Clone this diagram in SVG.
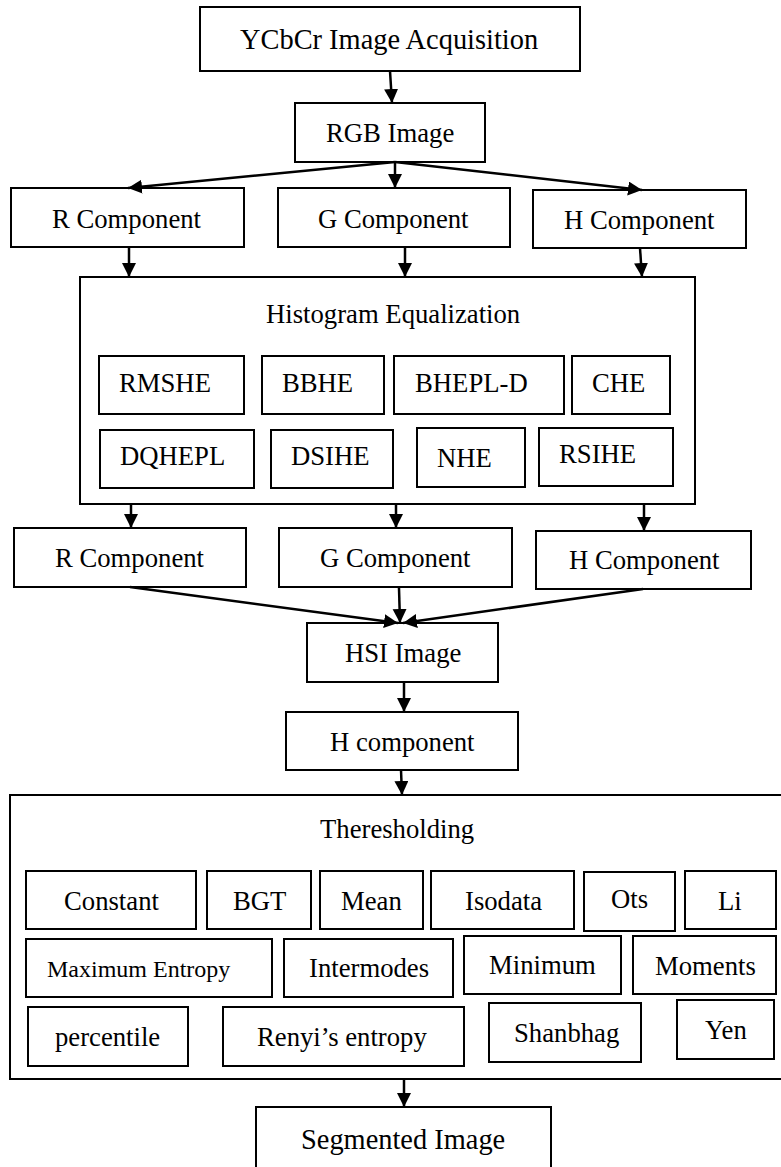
<svg xmlns="http://www.w3.org/2000/svg" width="781" height="1167" viewBox="0 0 781 1167">
<style>
rect{fill:#fff;stroke:#000;stroke-width:2}
text{font-family:"Liberation Serif","Times New Roman",serif;font-size:26.7px;fill:#000}
.sm{font-size:24px}
.lg{font-size:28.4px}
.c line{stroke:#000;stroke-width:2.5;marker-end:url(#ah)}
</style>
<defs>
<marker id="ah" markerUnits="userSpaceOnUse" markerWidth="16" markerHeight="16" refX="14" refY="7" orient="auto">
<path d="M0,0 L14,7 L0,14 Z" fill="#000"/>
</marker>
</defs>
<rect x="0" y="0" width="781" height="1167" style="stroke:none"/>
<g id="n-ycbcr"><rect x="200" y="7" width="380" height="64"/><text class="lg" x="240" y="49">YCbCr Image Acquisition</text></g>
<g id="n-rgb"><rect x="295" y="103" width="190" height="59"/><text x="326" y="142">RGB Image</text></g>
<g id="n-r1"><rect x="11" y="188" width="233" height="59"/><text x="52" y="228">R Component</text></g>
<g id="n-g1"><rect x="278" y="188" width="232" height="59"/><text x="318" y="228">G Component</text></g>
<g id="n-h1"><rect x="533" y="190" width="213" height="58"/><text x="564" y="229">H Component</text></g>
<g id="n-he">
<rect x="80" y="277" width="615" height="227"/>
<text x="266" y="323">Histogram Equalization</text>
<g id="n-rmshe"><rect x="99" y="356" width="145" height="58"/><text x="119" y="392">RMSHE</text></g>
<g id="n-bbhe"><rect x="262" y="356" width="122" height="58"/><text x="282" y="392">BBHE</text></g>
<g id="n-bhepld"><rect x="394" y="356" width="170" height="58"/><text x="415" y="392">BHEPL-D</text></g>
<g id="n-che"><rect x="572" y="356" width="98" height="58"/><text x="592" y="392">CHE</text></g>
<g id="n-dqhepl"><rect x="100" y="430" width="154" height="58"/><text x="120" y="465">DQHEPL</text></g>
<g id="n-dsihe"><rect x="271" y="430" width="122" height="58"/><text x="291" y="465">DSIHE</text></g>
<g id="n-nhe"><rect x="417" y="428" width="108" height="59"/><text x="437" y="467">NHE</text></g>
<g id="n-rsihe"><rect x="539" y="428" width="134" height="58"/><text x="559" y="463">RSIHE</text></g>
</g>
<g id="n-r2"><rect x="14" y="528" width="232" height="59"/><text x="55" y="567">R Component</text></g>
<g id="n-g2"><rect x="279" y="528" width="233" height="59"/><text x="320" y="567">G Component</text></g>
<g id="n-h2"><rect x="536" y="531" width="215" height="58"/><text x="569" y="569">H Component</text></g>
<g id="n-hsi"><rect x="307" y="623" width="191" height="59"/><text x="345" y="662">HSI Image</text></g>
<g id="n-hcomp"><rect x="286" y="712" width="232" height="58"/><text x="330" y="751">H component</text></g>
<g id="n-thr">
<rect x="10" y="795" width="790" height="284"/>
<text x="320" y="838">Theresholding</text>
<g id="n-constant"><rect x="26" y="871" width="170" height="58"/><text x="64" y="910">Constant</text></g>
<g id="n-bgt"><rect x="207" y="871" width="104" height="58"/><text x="233" y="910">BGT</text></g>
<g id="n-mean"><rect x="320" y="871" width="103" height="58"/><text x="341" y="910">Mean</text></g>
<g id="n-isodata"><rect x="431" y="871" width="143" height="58"/><text x="465" y="910">Isodata</text></g>
<g id="n-ots"><rect x="584" y="872" width="91" height="59"/><text x="611" y="908">Ots</text></g>
<g id="n-li"><rect x="685" y="871" width="91" height="58"/><text x="718" y="910">Li</text></g>
<g id="n-maxent"><rect x="26" y="939" width="246" height="58"/><text class="sm" x="47" y="977">Maximum Entropy</text></g>
<g id="n-intermodes"><rect x="284" y="939" width="169" height="58"/><text x="309" y="977">Intermodes</text></g>
<g id="n-minimum"><rect x="464" y="936" width="157" height="58"/><text x="489" y="974">Minimum</text></g>
<g id="n-moments"><rect x="633" y="936" width="143" height="58"/><text x="655" y="975">Moments</text></g>
<g id="n-percentile"><rect x="28" y="1007" width="160" height="59"/><text x="55" y="1046">percentile</text></g>
<g id="n-renyi"><rect x="223" y="1007" width="241" height="59"/><text x="257" y="1046">Renyi’s entropy</text></g>
<g id="n-shanbhag"><rect x="489" y="1003" width="152" height="59"/><text x="514" y="1042">Shanbhag</text></g>
<g id="n-yen"><rect x="677" y="1000" width="97" height="59"/><text x="705" y="1039">Yen</text></g>
</g>
<g id="n-seg"><rect x="256" y="1107" width="295" height="90"/><text class="lg" x="301" y="1149">Segmented Image</text></g>
<g id="connectors" class="c">
<line x1="390" y1="71" x2="392" y2="103"/>
<line x1="395" y1="162" x2="128" y2="188"/>
<line x1="395" y1="162" x2="395" y2="188"/>
<line x1="395" y1="162" x2="642" y2="190"/>
<line x1="129" y1="247" x2="129" y2="277"/>
<line x1="405" y1="247" x2="405" y2="277"/>
<line x1="640" y1="248" x2="642" y2="277"/>
<line x1="131" y1="504" x2="131" y2="528"/>
<line x1="396" y1="504" x2="396" y2="528"/>
<line x1="644" y1="504" x2="644" y2="531"/>
<line x1="130" y1="587" x2="398" y2="623"/>
<line x1="399" y1="588" x2="400" y2="623"/>
<line x1="643" y1="589" x2="403" y2="623"/>
<line x1="404" y1="682" x2="404" y2="712"/>
<line x1="401" y1="770" x2="402" y2="795"/>
<line x1="404" y1="1079" x2="404" y2="1107"/>
</g>
</svg>
